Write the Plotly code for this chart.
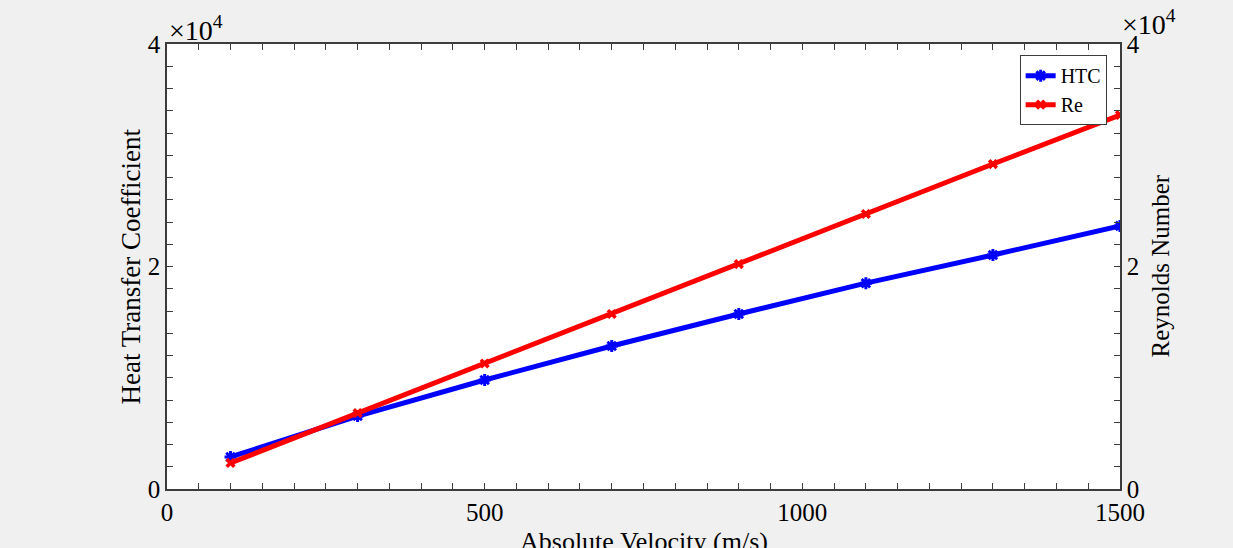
import plotly.graph_objects as go

velocity = [100, 300, 500, 700, 900, 1100, 1300, 1500]
htc = [2880, 6560, 9800, 12850, 15730, 18500, 21030, 23650]
reynolds = [2340, 6830, 11280, 15730, 20220, 24720, 29210, 33620]

x_tick_vals = [0, 500, 1000, 1500]
x_tick_labels = ["0", "500", "1000", "1500"]
y_tick_vals = [0, 20000, 40000]
y_tick_labels = ["0", "2", "4"]

FONT = "Liberation Serif"
AX = "#3c3c3c"

fig = go.Figure()
fig.add_trace(go.Scatter(
    x=velocity, y=htc, name="HTC", mode="lines+markers",
    line=dict(color="#0000ff", width=5),
    marker=dict(symbol="asterisk-open", size=10, color="#0000ff",
                line=dict(color="#0000ff", width=3)),
))
fig.add_trace(go.Scatter(
    x=velocity, y=reynolds, name="Re", mode="lines+markers", yaxis="y2",
    line=dict(color="#ff0000", width=5),
    marker=dict(symbol="x", size=9, color="#ff0000"),
))

common_axis = dict(showgrid=False, zeroline=False, showline=True, linecolor=AX,
                   linewidth=1.5, ticks="inside", ticklen=6, tickcolor=AX,
                   automargin=False,
                   tickfont=dict(family=FONT, size=25, color="#000000"))

fig.update_layout(
    width=1233, height=548,
    paper_bgcolor="#f0f0f0", plot_bgcolor="#ffffff",
    margin=dict(l=167, r=113, t=44, b=59),
    font=dict(family=FONT, color="#000000"),
    xaxis=dict(range=[0, 1500], tickvals=x_tick_vals, ticktext=x_tick_labels,
               mirror="ticks",
               minor=dict(dtick=50, ticks="inside", ticklen=6, tickcolor=AX),
               **common_axis),
    yaxis=dict(range=[0, 40000], tickvals=y_tick_vals, ticktext=y_tick_labels,
               minor=dict(dtick=2000, ticks="inside", ticklen=6, tickcolor=AX),
               **common_axis),
    yaxis2=dict(range=[0, 40000], tickvals=y_tick_vals, ticktext=y_tick_labels,
                overlaying="y", side="right",
                minor=dict(dtick=2000, ticks="inside", ticklen=6, tickcolor=AX),
                **common_axis),
    legend=dict(x=0.986, y=0.975, xanchor="right", yanchor="top",
                bgcolor="#ffffff", bordercolor=AX, borderwidth=1,
                font=dict(family=FONT, size=20), itemwidth=30,
                tracegroupgap=0),
    showlegend=True,
)

# axis titles
fig.add_annotation(x=0.5, y=0, xref="paper", yref="paper", xanchor="center",
                   yanchor="middle", text="Absolute Velocity (m/s)", showarrow=False,
                   font=dict(family=FONT, size=26), yshift=-52)
fig.add_annotation(x=0, y=0.5, xref="paper", yref="paper", xanchor="center",
                   yanchor="middle", text="Heat Transfer Coefficient", showarrow=False,
                   textangle=-90, font=dict(family=FONT, size=27), xshift=-37)
fig.add_annotation(x=1, y=0.5, xref="paper", yref="paper", xanchor="center",
                   yanchor="middle", text="Reynolds Number", showarrow=False,
                   textangle=-90, font=dict(family=FONT, size=25), xshift=40)

# exponent labels
fig.add_annotation(x=0, y=1, xref="paper", yref="paper", xanchor="left",
                   yanchor="bottom", text="×10<sup>4</sup>", showarrow=False,
                   font=dict(family=FONT, size=28), yshift=-4)
fig.add_annotation(x=1, y=1, xref="paper", yref="paper", xanchor="left",
                   yanchor="bottom", text="×10<sup>4</sup>", showarrow=False,
                   font=dict(family=FONT, size=28), yshift=2)

fig.write_html(
    "out.html",
    config={"displayModeBar": False},
    post_script="document.body.style.margin='0';document.body.style.background='#f0f0f0';",
)
